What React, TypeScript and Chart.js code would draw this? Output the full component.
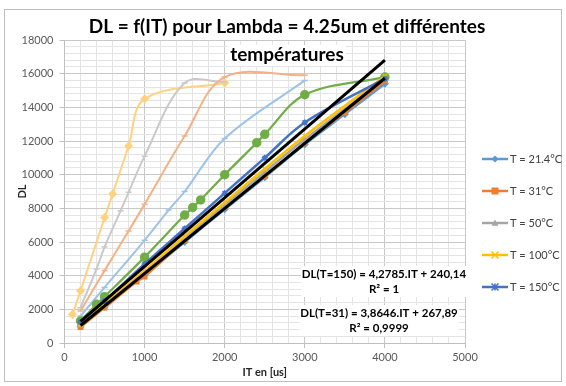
import React, { useEffect, useRef } from "react";
import { Chart, registerables } from "chart.js";
Chart.register(...registerables);

// ---------- data ----------
const X_TICKS = [0, 1000, 2000, 3000, 4000, 5000];
const Y_TICKS = [0, 2000, 4000, 6000, 8000, 10000, 12000, 14000, 16000, 18000];

const IT_T21 = [200, 500, 1000, 1500, 2000, 2500, 3000, 3500, 4000];
const DL_T21 = [1000, 2150, 4050, 6000, 7950, 9850, 11800, 13600, 15400];

const IT_T31 = [200, 500, 900, 1000, 1500, 2000, 2500, 3000, 3500, 4000];
const DL_T31 = [950, 2100, 3650, 3950, 6100, 8100, 9900, 11900, 13700, 15550];

const IT_T50 = [200, 500, 1000, 1500, 2000, 2500, 3000, 4000];
const DL_T50 = [1050, 2200, 4200, 6200, 8200, 10150, 12100, 15700];

const IT_T100 = [200, 500, 1000, 1500, 2000, 2500, 3000, 4000];
const DL_T100 = [1100, 2300, 4300, 6350, 8350, 10350, 12300, 15850];

const IT_T150 = [200, 500, 1000, 1500, 2000, 2500, 3000, 4000];
const DL_T150 = [1250, 2500, 4700, 6800, 8900, 11000, 13100, 15700];

const IT_GREEN = [200, 400, 500, 1000, 1500, 1600, 1700, 2000, 2400, 2500, 3000, 4000];
const DL_GREEN = [1300, 2300, 2750, 5100, 7600, 8050, 8500, 10000, 11900, 12400, 14750, 15800];

const IT_LBLUE = [200, 500, 1000, 1300, 1500, 2000, 3000];
const DL_LBLUE = [1600, 3300, 6100, 7900, 9000, 12150, 15600];

const IT_SALMON = [200, 500, 800, 1000, 1500, 2000, 3000];
const DL_SALMON = [1900, 4300, 6650, 8250, 12300, 15800, 15900];

const IT_LGRAY = [200, 400, 500, 700, 800, 1000, 1500, 2000];
const DL_LGRAY = [2100, 4400, 5700, 7850, 8950, 11100, 15450, 15500];

const IT_LGOLD = [100, 200, 500, 600, 800, 1000, 2000];
const DL_LGOLD = [1700, 3100, 7450, 8850, 11700, 14500, 15450];

const IT_TREND = [200, 4000];
const DL_TREND150 = [1280, 16800];
const DL_TREND31 = [1040, 15726];

const TITLE_1 = "DL = f(IT) pour Lambda = 4.25um et différentes";
const TITLE_2 = "températures";
const X_TITLE = "IT en [us]";
const Y_TITLE = "DL";
const EQ_150 = ["DL(T=150) = 4,2785.IT + 240,14", "R² = 1"];
const EQ_31 = ["DL(T=31) = 3,8646.IT + 267,89", "R² = 0,9999"];

const C21 = "#5B9BD5";
const C31 = "#ED7D31";
const C50 = "#A5A5A5";
const C100 = "#FFC000";
const C150 = "#4472C4";

const LEGEND = [
  { label: "T = 21.4°C", color: C21, style: "diamond" },
  { label: "T = 31°C", color: C31, style: "square" },
  { label: "T = 50°C", color: C50, style: "triangle" },
  { label: "T = 100°C", color: C100, style: "x" },
  { label: "T = 150°C", color: C150, style: "star" },
];

const FONT = "Lato, 'Open Sans', sans-serif";

function pts(xs: number[], ys: number[]) {
  return xs.map((x, i) => ({ x, y: ys[i] }));
}

function drawMarker(ctx: CanvasRenderingContext2D, style: string, x: number, y: number, r: number, color: string) {
  ctx.save();
  ctx.fillStyle = color;
  ctx.strokeStyle = color;
  ctx.lineWidth = 1.5;
  ctx.beginPath();
  if (style === "diamond") {
    ctx.moveTo(x, y - r); ctx.lineTo(x + r, y); ctx.lineTo(x, y + r); ctx.lineTo(x - r, y); ctx.closePath(); ctx.fill();
  } else if (style === "square") {
    ctx.rect(x - r, y - r, 2 * r, 2 * r); ctx.fill();
  } else if (style === "triangle") {
    ctx.moveTo(x, y - r); ctx.lineTo(x + r, y + r * 0.8); ctx.lineTo(x - r, y + r * 0.8); ctx.closePath(); ctx.fill();
  } else if (style === "x") {
    ctx.moveTo(x - r, y - r); ctx.lineTo(x + r, y + r); ctx.moveTo(x + r, y - r); ctx.lineTo(x - r, y + r); ctx.stroke();
  } else if (style === "star") {
    ctx.moveTo(x - r, y - r); ctx.lineTo(x + r, y + r); ctx.moveTo(x + r, y - r); ctx.lineTo(x - r, y + r);
    ctx.moveTo(x, y - r); ctx.lineTo(x, y + r); ctx.stroke();
  }
  ctx.restore();
}

const overlay = {
  id: "overlay",
  beforeDraw(chart: any) {
    const ctx = chart.ctx;
    ctx.save();
    ctx.fillStyle = "#ffffff";
    ctx.fillRect(0, 0, chart.width, chart.height);
    ctx.restore();
  },
  afterDraw(chart: any) {
    const ctx: CanvasRenderingContext2D = chart.ctx;
    const a = chart.chartArea;
    ctx.save();
    // outer border
    ctx.strokeStyle = "#BFBFBF";
    ctx.lineWidth = 1;
    ctx.strokeRect(4.5, 9.5, 557, 372);

    // title
    ctx.textAlign = "center";
    ctx.textBaseline = "middle";
    ctx.font = `bold 19px ${FONT}`;
    const tcx = 287;
    const w2 = ctx.measureText(TITLE_2).width;
    ctx.fillStyle = "#ffffff";
    ctx.fillRect(tcx - w2 / 2 - 2, 45, w2 + 4, 21);
    ctx.fillStyle = "#000000";
    ctx.fillText(TITLE_1, tcx, 27);
    ctx.fillText(TITLE_2, tcx, 55);

    // axis titles
    ctx.font = `bold 11px ${FONT}`;
    ctx.fillStyle = "#262626";
    ctx.fillText(X_TITLE, (a.left + a.right) / 2, 372);
    ctx.save();
    ctx.translate(22, (a.top + a.bottom) / 2);
    ctx.rotate(-Math.PI / 2);
    ctx.fillText(Y_TITLE, 0, 0);
    ctx.restore();

    // equation labels
    ctx.font = `bold 11.5px ${FONT}`;
    const drawEq = (lines: string[], cx: number, y0: number) => {
      const w = Math.max(...lines.map((l) => ctx.measureText(l).width));
      ctx.fillStyle = "#ffffff";
      ctx.fillRect(cx - w / 2 - 1, y0 - 8, w + 2, 31);
      ctx.fillStyle = "#000000";
      lines.forEach((l, i) => ctx.fillText(l, cx, y0 + i * 15));
    };
    drawEq(EQ_150, 384, 274);
    drawEq(EQ_31, 379, 313);

    // legend
    ctx.textAlign = "left";
    ctx.font = `11px ${FONT}`;
    LEGEND.forEach((it, i) => {
      const y = 159 + i * 32;
      ctx.strokeStyle = it.color;
      ctx.lineWidth = 2.5;
      ctx.beginPath();
      ctx.moveTo(482, y);
      ctx.lineTo(508, y);
      ctx.stroke();
      drawMarker(ctx, it.style, 495, y, 3.5, it.color);
      ctx.fillStyle = "#404040";
      ctx.fillText(it.label, 510, y);
    });
    ctx.restore();
  },
};

export default function App() {
  const ref = useRef<HTMLCanvasElement | null>(null);
  useEffect(() => {
    document.body.style.margin = "0";
    const canvas = ref.current!;
    const mk = (label: string, xs: number[], ys: number[], color: string, style: any, order: number, bw = 2.5, pr = 3) => ({
      label,
      data: pts(xs, ys),
      borderColor: color,
      backgroundColor: color,
      pointBackgroundColor: color,
      pointBorderColor: color,
      pointStyle: style,
      pointRadius: pr,
      pointBorderWidth: 1.5,
      borderWidth: bw,
      tension: 0.35,
      fill: false,
      order,
    });
    const datasets: any[] = [
      mk("trend150", IT_TREND, DL_TREND150, "#000000", false, 0, 3, 0),
      mk("trend31", IT_TREND, DL_TREND31, "#000000", false, 0, 3, 0),
      mk("T = 150°C", IT_T150, DL_T150, C150, "star", 1),
      mk("T = 100°C", IT_T100, DL_T100, C100, "crossRot", 2),
      mk("T = 50°C", IT_T50, DL_T50, C50, "triangle", 3),
      mk("T = 31°C", IT_T31, DL_T31, C31, "rect", 4),
      mk("T = 21.4°C", IT_T21, DL_T21, C21, "rectRot", 5),
      mk("green", IT_GREEN, DL_GREEN, "#70AD47", "circle", 6, 2.25, 4),
      mk("lblue", IT_LBLUE, DL_LBLUE, "#9DC3E6", "line", 7, 2, 3),
      mk("salmon", IT_SALMON, DL_SALMON, "#F4B183", "line", 8, 2, 3),
      mk("lgray", IT_LGRAY, DL_LGRAY, "#C9C9C9", "line", 9, 2, 3),
      mk("lgold", IT_LGOLD, DL_LGOLD, "#FFD280", "rectRot", 10, 2, 3.5),
    ];
    const xMajor = (v: number) => X_TICKS.includes(v);
    const yMajor = (v: number) => Y_TICKS.includes(v);
    const chart = new Chart(canvas, {
      type: "line",
      data: { datasets },
      plugins: [overlay as any],
      options: {
        responsive: false,
        animation: false,
        devicePixelRatio: 1,
        layout: { padding: { left: 4.5, right: 101, top: 40, bottom: 0 } },
        plugins: { legend: { display: false }, title: { display: false }, tooltip: { enabled: false } },
        scales: {
          x: {
            type: "linear",
            min: 0,
            max: 5000,
            afterFit: (s: any) => { s.height = 43; },
            border: { color: "#BFBFBF", width: 1 },
            grid: {
              color: (c: any) => (xMajor(c.tick.value) ? "#C8C8C8" : "#E4E4E4"),
              tickColor: (c: any) => (xMajor(c.tick.value) ? "#BFBFBF" : "rgba(0,0,0,0)"),
              tickLength: 5,
              lineWidth: 1,
            },
            ticks: {
              stepSize: 200,
              autoSkip: false,
              maxRotation: 0,
              padding: 3,
              color: "#595959",
              font: { family: FONT, size: 11 },
              callback: (v: any) => (xMajor(Number(v)) ? String(v) : ""),
            },
          },
          y: {
            type: "linear",
            min: 0,
            max: 18000,
            afterFit: (s: any) => { s.width = 60; },
            border: { color: "#BFBFBF", width: 1 },
            grid: {
              color: (c: any) => (yMajor(c.tick.value) ? "#C8C8C8" : "#E4E4E4"),
              tickColor: (c: any) => (yMajor(c.tick.value) ? "#BFBFBF" : "rgba(0,0,0,0)"),
              tickLength: 5,
              lineWidth: 1,
            },
            ticks: {
              stepSize: 400,
              autoSkip: false,
              padding: 6,
              color: "#595959",
              font: { family: FONT, size: 11 },
              callback: (v: any) => (yMajor(Number(v)) ? String(v) : ""),
            },
          },
        },
      } as any,
    });
    (document as any).fonts?.load?.(`bold 12px Lato`).then(() => chart.update()).catch(() => {});
    return () => chart.destroy();
  }, []);
  return (
    <div style={{ position: "fixed", left: 0, top: 0, width: 566, height: 386 }}>
      <canvas ref={ref} width={566} height={386} style={{ width: 566, height: 386, display: "block" }} />
    </div>
  );
}
